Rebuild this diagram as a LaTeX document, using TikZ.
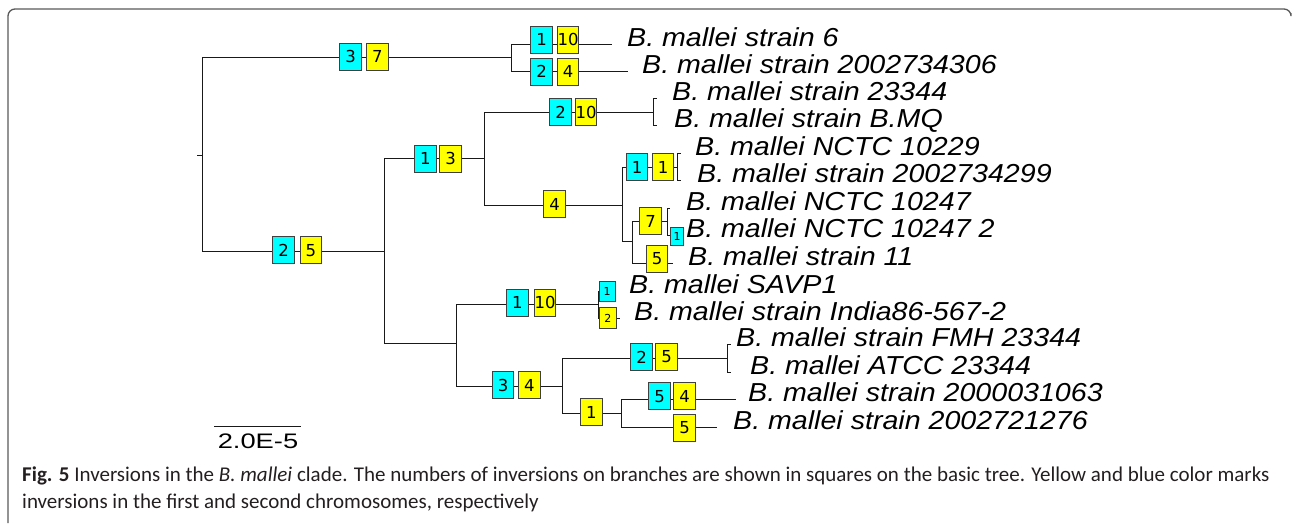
\documentclass[tikz,border=0pt]{standalone}
\usepackage{fontspec}
\newfontfamily\labfont[FakeStretch=1.1]{Liberation Sans}
\newfontfamily\barfont[FakeStretch=1.3]{Liberation Sans}
\newfontfamily\numfont{DejaVu Sans}
\newfontfamily\capfont{Carlito}
\definecolor{boxcyan}{HTML}{00FFFF}
\definecolor{boxyellow}{HTML}{FFFF00}
\definecolor{captext}{HTML}{231F20}
\tikzset{
  branch/.style={draw=black!90, line width=1pt},
  inv/.style={draw=black!75, line width=1pt, minimum width=21.5pt, minimum height=27pt,
              inner sep=0pt, font=\numfont\fontsize{16.5}{16.5}\selectfont},
  cy/.style={inv, fill=boxcyan},
  ye/.style={inv, fill=boxyellow},
  smallinv/.style={minimum width=16pt, minimum height=20pt, font=\numfont\fontsize{11}{11}\selectfont},
  leaf/.style={anchor=base west, inner sep=0pt, font=\labfont\itshape\fontsize{26}{26}\selectfont},
}
\begin{document}
\begin{tikzpicture}[x=1pt, y=-1pt]
\useasboundingbox (0,0) rectangle (1292,523);
% frame of the figure panel
\draw[black!65, line width=1.3pt, rounded corners=7pt] (8,523) -- (8,9) -- (1291,9) -- (1291,13);

% internal vertices of the tree
\coordinate (R0) at (197,155);
\coordinate (R) at (202,155);
\coordinate (T) at (511.7,57.5);
\coordinate (L) at (384.3,251.5);
\coordinate (A) at (484.7,158.7);
\coordinate (A1) at (653.3,112);
\coordinate (A2) at (622.7,205);
\coordinate (A21) at (677.3,167);
\coordinate (A22) at (632.7,241.7);
\coordinate (A221) at (667,221.7);
\coordinate (B) at (456,343);
\coordinate (B1) at (598,304);
\coordinate (B2) at (562.3,386);
\coordinate (B21) at (727.3,358.3);
\coordinate (B22) at (621,413.3);
% tips of the terminal branches
\coordinate (e1) at (612,44);
\coordinate (e2) at (628,71);
\coordinate (e3) at (657,98.3);
\coordinate (e4) at (657,125);
\coordinate (e5) at (681,153.3);
\coordinate (e6) at (681,180);
\coordinate (e7) at (670,208.3);
\coordinate (e8) at (676,235.7);
\coordinate (e9) at (673,263.3);
\coordinate (e10) at (607,291);
\coordinate (e11) at (620,318);
\coordinate (e12) at (731,344.3);
\coordinate (e13) at (731,372.3);
\coordinate (e14) at (736,399.3);
\coordinate (e15) at (717,427);

% branches
\path[branch] (R0) -- (R);
\path[branch] (R) |- (T);
\path[branch] (R) |- (L);
\path[branch] (T) |- (e1);
\path[branch] (T) |- (e2);
\path[branch] (L) |- (A);
\path[branch] (L) |- (B);
\path[branch] (A) |- (A1);
\path[branch] (A) |- (A2);
\path[branch] (A1) |- (e3);
\path[branch] (A1) |- (e4);
\path[branch] (A2) |- (A21);
\path[branch] (A2) |- (A22);
\path[branch] (A21) |- (e5);
\path[branch] (A21) |- (e6);
\path[branch] (A22) |- (A221);
\path[branch] (A22) |- (e9);
\path[branch] (A221) |- (e7);
\path[branch] (A221) |- (e8);
\path[branch] (B) |- (B1);
\path[branch] (B) |- (B2);
\path[branch] (B1) |- (e10);
\path[branch] (B1) |- (e11);
\path[branch] (B2) |- (B21);
\path[branch] (B2) |- (B22);
\path[branch] (B21) |- (e12);
\path[branch] (B21) |- (e13);
\path[branch] (B22) |- (e14);
\path[branch] (B22) |- (e15);

% inversion counts (blue: second chromosome, yellow: first chromosome)
\node[cy] (iT2) at (350.5,56.7) {3};
\node[ye] (iT1) at (377.3,56.7) {7};
\node[cy] (ie1b) at (541.7,39.5) {1};
\node[ye] (ie1a) at (568,39.5) {10};
\node[cy] (ie2b) at (541.7,71.5) {2};
\node[ye] (ie2a) at (568,71.5) {4};
\node[cy] (iL2) at (283.5,250.2) {2};
\node[ye] (iL1) at (310.8,250.2) {5};
\node[cy] (iA2) at (425.3,158.7) {1};
\node[ye] (iA1) at (450.5,158.7) {3};
\node[cy] (iA1b) at (560.7,112) {2};
\node[ye] (iA1a) at (586,112) {10};
\node[ye] (iA2a) at (554.7,204.3) {4};
\node[cy] (iA21b) at (637,167) {1};
\node[ye] (iA21a) at (663.2,167) {1};
\node[ye] (iA221a) at (650.5,221.3) {7};
\node[cy, smallinv, minimum width=13.5pt, minimum height=18pt] (ie8b) at (677,236.2) {1};
\node[ye] (ie9a) at (657,258.8) {5};
\node[cy] (iB2) at (517.3,302.8) {1};
\node[ye] (iB1) at (545,302.8) {10};
\node[cy, smallinv] (ie10b) at (607,291.3) {1};
\node[ye, smallinv, minimum width=17pt, minimum height=21.5pt] (ie11a) at (607.8,318.2) {2};
\node[cy] (iB2b) at (503,385.3) {3};
\node[ye] (iB2a) at (529.3,385.3) {4};
\node[cy] (iB21b) at (641.7,357) {2};
\node[ye] (iB21a) at (666.5,357) {5};
\node[ye] (iB22a) at (591.3,412) {1};
\node[cy] (ie14b) at (659.7,396.3) {5};
\node[ye] (ie14a) at (684.5,396.3) {4};
\node[ye] (ie15a) at (684.7,428) {5};

% taxon names
\node[leaf] (t1) at (627,46) {B. mallei strain 6};
\node[leaf] (t2) at (642,73.3) {B. mallei strain 2002734306};
\node[leaf] (t3) at (672,100) {B. mallei strain 23344};
\node[leaf] (t4) at (674,127) {B. mallei strain B.MQ};
\node[leaf] (t5) at (695,155) {B. mallei NCTC 10229};
\node[leaf] (t6) at (697,182) {B. mallei strain 2002734299};
\node[leaf] (t7) at (686,210) {B. mallei NCTC 10247};
\node[leaf] (t8) at (686,237.5) {B. mallei NCTC 10247 2};
\node[leaf] (t9) at (688,265) {B. mallei strain 11};
\node[leaf] (t10) at (629,293) {B. mallei SAVP1};
\node[leaf] (t11) at (634,320) {B. mallei strain India86-567-2};
\node[leaf] (t12) at (736,346) {B. mallei strain FMH 23344};
\node[leaf] (t13) at (750,374) {B. mallei ATCC 23344};
\node[leaf] (t14) at (748,401) {B. mallei strain 2000031063};
\node[leaf] (t15) at (733,429) {B. mallei strain 2002721276};

% scale bar
\coordinate (s0) at (214,426);
\coordinate (s1) at (301,426);
\path[branch] (s0) -- (s1);
\node[anchor=base, inner sep=0pt, font=\barfont\fontsize{21}{21}\selectfont] (sl) at (258,448) {2.0E-5};

% caption
\node[anchor=base west, inner sep=0pt, text=captext, font=\capfont\fontsize{21}{21}\selectfont] (c1) at (22,481)
  {\textbf{Fig. 5} Inversions in the \textit{B. mallei} clade. The numbers of inversions on branches are shown in squares on the basic tree. Yellow and blue color marks};
\node[anchor=base west, inner sep=0pt, text=captext, font=\capfont\fontsize{21}{21}\selectfont] (c2) at (22,508)
  {inversions in the first and second chromosomes, respectively};
\end{tikzpicture}
\end{document}
